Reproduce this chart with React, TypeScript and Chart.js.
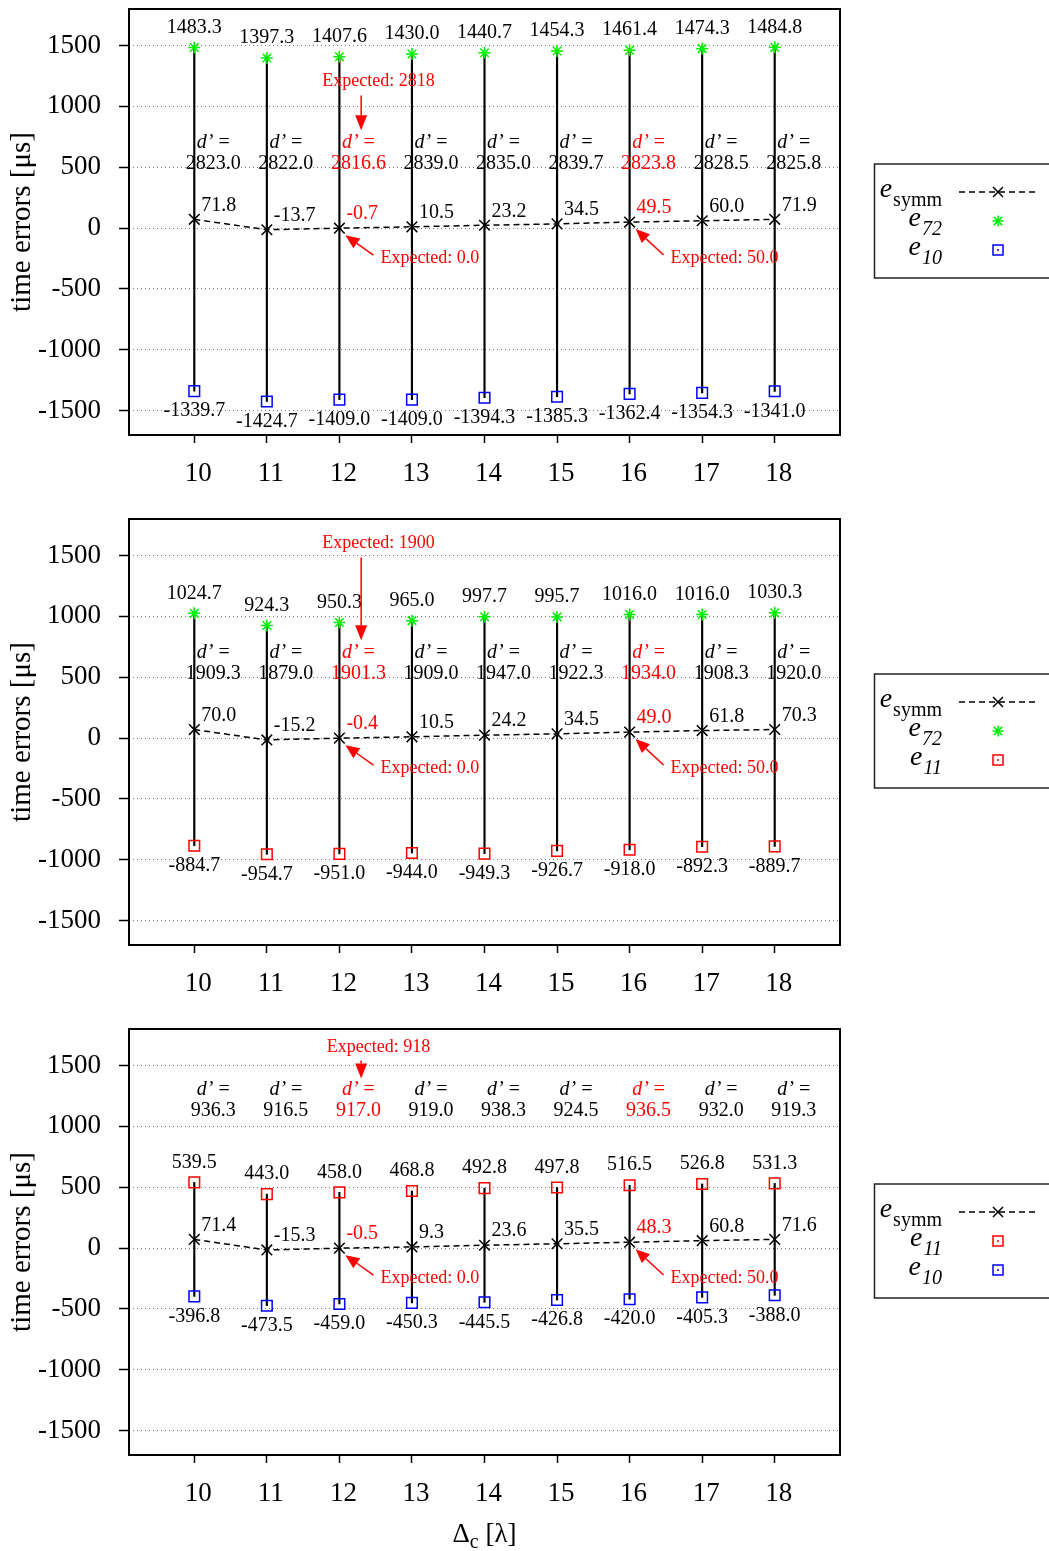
import React, { useEffect, useRef } from 'react';
import { Chart, registerables } from 'chart.js';

Chart.register(...registerables);

// ---------------- data ----------------
const X_VALUES = [10, 11, 12, 13, 14, 15, 16, 17, 18];
const X_TICKS = [10, 11, 12, 13, 14, 15, 16, 17, 18];
const Y_TICKS = [-1500, -1000, -500, 0, 500, 1000, 1500];
const HIGHLIGHT_INDEXES = [2, 6];
const EXPECTED_SYMM_INDEXES = [2, 6];
const EXPECTED_SYMM_VALUES = [0.0, 50.0];

// panel 1
const P1_ESYMM = [71.8, -13.7, -0.7, 10.5, 23.2, 34.5, 49.5, 60.0, 71.9];
const P1_E72 = [1483.3, 1397.3, 1407.6, 1430.0, 1440.7, 1454.3, 1461.4, 1474.3, 1484.8];
const P1_E10 = [-1339.7, -1424.7, -1409.0, -1409.0, -1394.3, -1385.3, -1362.4, -1354.3, -1341.0];
const P1_DPRIME = [2823.0, 2822.0, 2816.6, 2839.0, 2835.0, 2839.7, 2823.8, 2828.5, 2825.8];
const P1_EXPECTED_D = 2818;

// panel 2
const P2_ESYMM = [70.0, -15.2, -0.4, 10.5, 24.2, 34.5, 49.0, 61.8, 70.3];
const P2_E72 = [1024.7, 924.3, 950.3, 965.0, 997.7, 995.7, 1016.0, 1016.0, 1030.3];
const P2_E11 = [-884.7, -954.7, -951.0, -944.0, -949.3, -926.7, -918.0, -892.3, -889.7];
const P2_DPRIME = [1909.3, 1879.0, 1901.3, 1909.0, 1947.0, 1922.3, 1934.0, 1908.3, 1920.0];
const P2_EXPECTED_D = 1900;

// panel 3
const P3_ESYMM = [71.4, -15.3, -0.5, 9.3, 23.6, 35.5, 48.3, 60.8, 71.6];
const P3_E11 = [539.5, 443.0, 458.0, 468.8, 492.8, 497.8, 516.5, 526.8, 531.3];
const P3_E10 = [-396.8, -473.5, -459.0, -450.3, -445.5, -426.8, -420.0, -405.3, -388.0];
const P3_DPRIME = [936.3, 916.5, 917.0, 919.0, 938.3, 924.5, 936.5, 932.0, 919.3];
const P3_EXPECTED_D = 918;

// ---------------- styling / layout ----------------
const FONT = '"Liberation Serif", "Times New Roman", serif';
const RED = '#ff0000';
const GREEN = '#00ee00';
const BLUE = '#0000ff';

type SeriesDef = { sub: string; values: number[]; color: string; style: 'star' | 'square' };
type PanelDef = {
  esymm: number[];
  upper: SeriesDef;
  lower: SeriesDef;
  dprime: number[];
  expectedD: number;
  dLabelY: number;
  dValueY: number;
  expTextY: number;
  expArrowFrom: number;
  expArrowTo: number;
};

const PANELS: PanelDef[] = [
  {
    esymm: P1_ESYMM,
    upper: { sub: '72', values: P1_E72, color: GREEN, style: 'star' },
    lower: { sub: '10', values: P1_E10, color: BLUE, style: 'square' },
    dprime: P1_DPRIME, expectedD: P1_EXPECTED_D,
    dLabelY: 700, dValueY: 528, expTextY: 1205, expArrowFrom: 1090, expArrowTo: 803,
  },
  {
    esymm: P2_ESYMM,
    upper: { sub: '72', values: P2_E72, color: GREEN, style: 'star' },
    lower: { sub: '11', values: P2_E11, color: RED, style: 'square' },
    dprime: P2_DPRIME, expectedD: P2_EXPECTED_D,
    dLabelY: 700, dValueY: 530, expTextY: 1598, expArrowFrom: 1484, expArrowTo: 803,
  },
  {
    esymm: P3_ESYMM,
    upper: { sub: '11', values: P3_E11, color: RED, style: 'square' },
    lower: { sub: '10', values: P3_E10, color: BLUE, style: 'square' },
    dprime: P3_DPRIME, expectedD: P3_EXPECTED_D,
    dLabelY: 1300, dValueY: 1127, expTextY: 1648, expArrowFrom: 1541, expArrowTo: 1393,
  },
];

const PANEL_STEP = 510;
const PLOT_TOP = 8;
const PLOT_BOTTOM = 435;
const PLOT_LEFT = 129;
const PLOT_RIGHT = 840;
const CANVAS_W = 1049;

function drawArrow(ctx: CanvasRenderingContext2D, x1: number, y1: number, x2: number, y2: number, color: string, headLen = 13, headHalf = 5.5) {
  const ang = Math.atan2(y2 - y1, x2 - x1);
  const bx = x2 - headLen * Math.cos(ang);
  const by = y2 - headLen * Math.sin(ang);
  ctx.save();
  ctx.strokeStyle = color;
  ctx.fillStyle = color;
  ctx.lineWidth = 1.5;
  ctx.setLineDash([]);
  ctx.beginPath();
  ctx.moveTo(x1, y1);
  ctx.lineTo(bx, by);
  ctx.stroke();
  ctx.beginPath();
  ctx.moveTo(x2, y2);
  ctx.lineTo(bx + headHalf * Math.sin(ang), by - headHalf * Math.cos(ang));
  ctx.lineTo(bx - headHalf * Math.sin(ang), by + headHalf * Math.cos(ang));
  ctx.closePath();
  ctx.fill();
  ctx.restore();
}

function drawMarker(ctx: CanvasRenderingContext2D, kind: string, x: number, y: number, color: string) {
  ctx.save();
  ctx.strokeStyle = color;
  ctx.fillStyle = color;
  ctx.lineWidth = 1.5;
  ctx.setLineDash([]);
  ctx.beginPath();
  if (kind === 'cross') {
    const r = 5;
    ctx.moveTo(x - r, y - r); ctx.lineTo(x + r, y + r);
    ctx.moveTo(x - r, y + r); ctx.lineTo(x + r, y - r);
    ctx.stroke();
  } else if (kind === 'star') {
    const r = 5.5; const d = r * 0.75;
    ctx.moveTo(x - r, y); ctx.lineTo(x + r, y);
    ctx.moveTo(x, y - r); ctx.lineTo(x, y + r);
    ctx.moveTo(x - d, y - d); ctx.lineTo(x + d, y + d);
    ctx.moveTo(x - d, y + d); ctx.lineTo(x + d, y - d);
    ctx.stroke();
  } else {
    ctx.strokeRect(x - 5, y - 5, 10, 10);
    ctx.fillRect(x - 0.75, y - 1, 1.5, 2);
  }
  ctx.restore();
}

function makeOverlay(panelIndex: number, canvasH: number) {
  const p = PANELS[panelIndex];
  return {
    id: 'overlay' + panelIndex,
    afterDatasetsDraw(chart: any) {
      const ctx: CanvasRenderingContext2D = chart.ctx;
      const xs = chart.scales.x;
      const ys = chart.scales.y;
      const { left, top, right, bottom } = chart.chartArea;
      ctx.save();

      // frame
      ctx.strokeStyle = '#000';
      ctx.lineWidth = 2;
      ctx.setLineDash([]);
      ctx.strokeRect(left, top, right - left, bottom - top);

      ctx.textBaseline = 'middle';
      const labelFont = `20px ${FONT}`;

      X_VALUES.forEach((xv, i) => {
        const px = xs.getPixelForValue(xv);
        const hl = HIGHLIGHT_INDEXES.includes(i);

        // upper / lower value labels
        ctx.font = labelFont;
        ctx.fillStyle = '#000';
        ctx.textAlign = 'center';
        ctx.fillText(p.upper.values[i].toFixed(1), px, ys.getPixelForValue(p.upper.values[i]) - 20);
        ctx.fillText(p.lower.values[i].toFixed(1), px, ys.getPixelForValue(p.lower.values[i]) + 20);

        // esymm label
        ctx.textAlign = 'left';
        ctx.fillStyle = hl ? RED : '#000';
        ctx.fillText(p.esymm[i].toFixed(1), px + 7, ys.getPixelForValue(p.esymm[i]) - 14);

        // d' labels
        const cx = px + 19;
        ctx.font = `italic 20px ${FONT}`;
        const w1 = ctx.measureText('d\u2019').width;
        ctx.font = labelFont;
        const w2 = ctx.measureText(' =').width;
        const start = cx - (w1 + w2) / 2;
        const dy = ys.getPixelForValue(p.dLabelY);
        ctx.textAlign = 'left';
        ctx.font = `italic 20px ${FONT}`;
        ctx.fillText('d\u2019', start, dy);
        ctx.font = labelFont;
        ctx.fillText(' =', start + w1, dy);
        ctx.textAlign = 'center';
        ctx.fillText(p.dprime[i].toFixed(1), cx, ys.getPixelForValue(p.dValueY));
      });

      // Expected d' annotation
      ctx.font = `18px ${FONT}`;
      ctx.fillStyle = RED;
      ctx.textAlign = 'center';
      ctx.fillText('Expected: ' + p.expectedD, xs.getPixelForValue(12.54), ys.getPixelForValue(p.expTextY));
      const ax = xs.getPixelForValue(12.3);
      drawArrow(ctx, ax, ys.getPixelForValue(p.expArrowFrom), ax, ys.getPixelForValue(p.expArrowTo), RED, 15, 6);

      // Expected esymm annotations
      EXPECTED_SYMM_INDEXES.forEach((idx, k) => {
        const px = xs.getPixelForValue(X_VALUES[idx]);
        const py = ys.getPixelForValue(p.esymm[idx]);
        const ty = ys.getPixelForValue(-246);
        ctx.font = `18px ${FONT}`;
        ctx.fillStyle = RED;
        ctx.textAlign = 'left';
        ctx.fillText('Expected: ' + EXPECTED_SYMM_VALUES[k].toFixed(1), px + 41, ty);
        drawArrow(ctx, px + 34, ty - 3, px + 6, py + 7, RED, 14, 6);
      });

      // legend
      const lgTop = 164, lgBottom = 278, lgLeft = 874;
      ctx.strokeStyle = '#222';
      ctx.lineWidth = 1.5;
      ctx.setLineDash([]);
      ctx.strokeRect(lgLeft + 0.5, lgTop, CANVAS_W + 10 - lgLeft, lgBottom - lgTop);
      const rows = [
        { sub: 'symm', subItalic: false, kind: 'line', color: '#000', y: 192 },
        { sub: p.upper.sub, subItalic: true, kind: p.upper.style, color: p.upper.color, y: 221 },
        { sub: p.lower.sub, subItalic: true, kind: p.lower.style, color: p.lower.color, y: 250 },
      ];
      const textRight = 942;
      rows.forEach((r) => {
        const subFont = `${r.subItalic ? 'italic ' : ''}20px ${FONT}`;
        const eFont = `italic 28px ${FONT}`;
        ctx.font = subFont;
        const ws = ctx.measureText(r.sub).width;
        ctx.font = eFont;
        const we = ctx.measureText('e').width;
        const eBase = r.y + 5;
        ctx.fillStyle = '#000';
        ctx.textAlign = 'left';
        ctx.textBaseline = 'alphabetic';
        ctx.fillText('e', textRight - ws - we - 1, eBase);
        ctx.font = subFont;
        ctx.fillText(r.sub, textRight - ws, eBase + 9);
        if (r.kind === 'line') {
          ctx.save();
          ctx.strokeStyle = '#000';
          ctx.lineWidth = 1.5;
          ctx.setLineDash([6, 4]);
          ctx.beginPath();
          ctx.moveTo(959, r.y);
          ctx.lineTo(1037, r.y);
          ctx.stroke();
          ctx.restore();
          drawMarker(ctx, 'cross', 998, r.y, '#000');
        } else {
          drawMarker(ctx, r.kind, 998, r.y, r.color);
        }
      });

      // x axis title on last panel
      if (panelIndex === PANELS.length - 1) {
        const base = canvasH - 9;
        ctx.fillStyle = '#000';
        ctx.textBaseline = 'alphabetic';
        ctx.textAlign = 'left';
        ctx.font = `27px ${FONT}`;
        const wD = ctx.measureText('\u0394').width;
        const wR = ctx.measureText(' [\u03bb]').width;
        ctx.font = `20px ${FONT}`;
        const wc = ctx.measureText('c').width;
        const total = wD + wc + wR;
        const cxp = (left + right) / 2;
        const x0 = cxp - total / 2;
        ctx.font = `27px ${FONT}`;
        ctx.fillText('\u0394', x0, base);
        ctx.font = `20px ${FONT}`;
        ctx.fillText('c', x0 + wD, base + 6);
        ctx.font = `27px ${FONT}`;
        ctx.fillText(' [\u03bb]', x0 + wD + wc, base);
      }

      ctx.restore();
    },
  };
}

function buildConfig(panelIndex: number, canvasH: number): any {
  const p = PANELS[panelIndex];
  const pts = (vals: number[]) => X_VALUES.map((x, i) => ({ x, y: vals[i] }));
  const seriesDataset = (s: SeriesDef) => ({
    type: 'line',
    label: 'e' + s.sub,
    data: pts(s.values),
    showLine: false,
    pointStyle: s.style === 'star' ? 'star' : 'rect',
    pointRadius: s.style === 'star' ? 6 : 7.5,
    pointBorderColor: s.color,
    pointBackgroundColor: 'rgba(0,0,0,0)',
    pointBorderWidth: 1.5,
    order: 2,
  });
  return {
    type: 'line',
    data: {
      datasets: [
        {
          type: 'line',
          label: 'esymm',
          data: pts(p.esymm),
          borderColor: '#000',
          borderWidth: 1.5,
          borderDash: [6, 4],
          pointStyle: 'crossRot',
          pointRadius: 7.5,
          pointBorderColor: '#000',
          pointBackgroundColor: '#000',
          pointBorderWidth: 1.5,
          fill: false,
          tension: 0,
          order: 1,
        },
        seriesDataset(p.upper),
        seriesDataset(p.lower),
        {
          type: 'bar',
          label: 'range',
          data: X_VALUES.map((x, i) => ({ x, y: [p.lower.values[i], p.upper.values[i]] })),
          backgroundColor: '#000',
          borderWidth: 0,
          barThickness: 1.5,
          order: 5,
        },
      ],
    },
    options: {
      responsive: false,
      animation: false,
      events: [],
      layout: { padding: { top: PLOT_TOP, left: 0, right: CANVAS_W - PLOT_RIGHT, bottom: 0 } },
      plugins: { legend: { display: false }, tooltip: { enabled: false }, title: { display: false } },
      scales: {
        x: {
          type: 'linear',
          min: 9.1,
          max: 18.9,
          offset: false,
          afterBuildTicks: (scale: any) => { scale.ticks = X_TICKS.map((v) => ({ value: v })); },
          afterFit: (scale: any) => {
            scale.height = canvasH - PLOT_BOTTOM;
            scale.paddingLeft = 0; scale.paddingRight = 0; scale.paddingTop = 0; scale.paddingBottom = 0;
          },
          grid: { offset: false, drawOnChartArea: false, drawTicks: true, tickLength: 8, tickColor: '#000', tickWidth: 1.5 },
          border: { display: false },
          ticks: {
            callback: (v: any) => String(v),
            font: { family: FONT, size: 27 },
            color: '#000',
            padding: 15,
            labelOffset: 4,
            maxRotation: 0,
            autoSkip: false,
          },
        },
        y: {
          type: 'linear',
          min: -1700,
          max: 1800,
          afterBuildTicks: (scale: any) => { scale.ticks = Y_TICKS.map((v) => ({ value: v })); },
          afterFit: (scale: any) => {
            scale.width = PLOT_LEFT;
            scale.paddingLeft = 0; scale.paddingRight = 0; scale.paddingTop = 0; scale.paddingBottom = 0;
          },
          grid: {
            offset: false,
            drawOnChartArea: true,
            drawTicks: true,
            tickLength: 10,
            tickColor: '#000',
            tickWidth: 1.5,
            tickBorderDash: [],
            color: '#777',
            lineWidth: 1,
          },
          border: { display: false, dash: [1, 3] },
          ticks: {
            callback: (v: any) => String(v),
            font: { family: FONT, size: 27 },
            color: '#000',
            padding: 18,
            autoSkip: false,
          },
          title: {
            display: true,
            text: 'time errors [\u03bcs]',
            font: { family: FONT, size: 29 },
            color: '#000',
            padding: { top: 5, bottom: 0 },
          },
        },
      },
    },
    plugins: [makeOverlay(panelIndex, canvasH)],
  };
}

function Panel({ index, height }: { index: number; height: number }) {
  const ref = useRef<HTMLCanvasElement>(null);
  useEffect(() => {
    const canvas = ref.current;
    if (!canvas) return;
    const chart = new Chart(canvas, buildConfig(index, height));
    return () => chart.destroy();
  }, [index, height]);
  return (
    <canvas
      ref={ref}
      width={CANVAS_W}
      height={height}
      style={{ position: 'absolute', left: 0, top: index * PANEL_STEP, width: CANVAS_W, height }}
    />
  );
}

export default function App() {
  Chart.defaults.font.family = FONT;
  Chart.defaults.color = '#000';
  return (
    <div style={{ position: 'absolute', left: 0, top: 0, width: CANVAS_W, height: 1551, background: '#fff', overflow: 'hidden' }}>
      <Panel index={0} height={PANEL_STEP} />
      <Panel index={1} height={PANEL_STEP} />
      <Panel index={2} height={1551 - 2 * PANEL_STEP} />
    </div>
  );
}
